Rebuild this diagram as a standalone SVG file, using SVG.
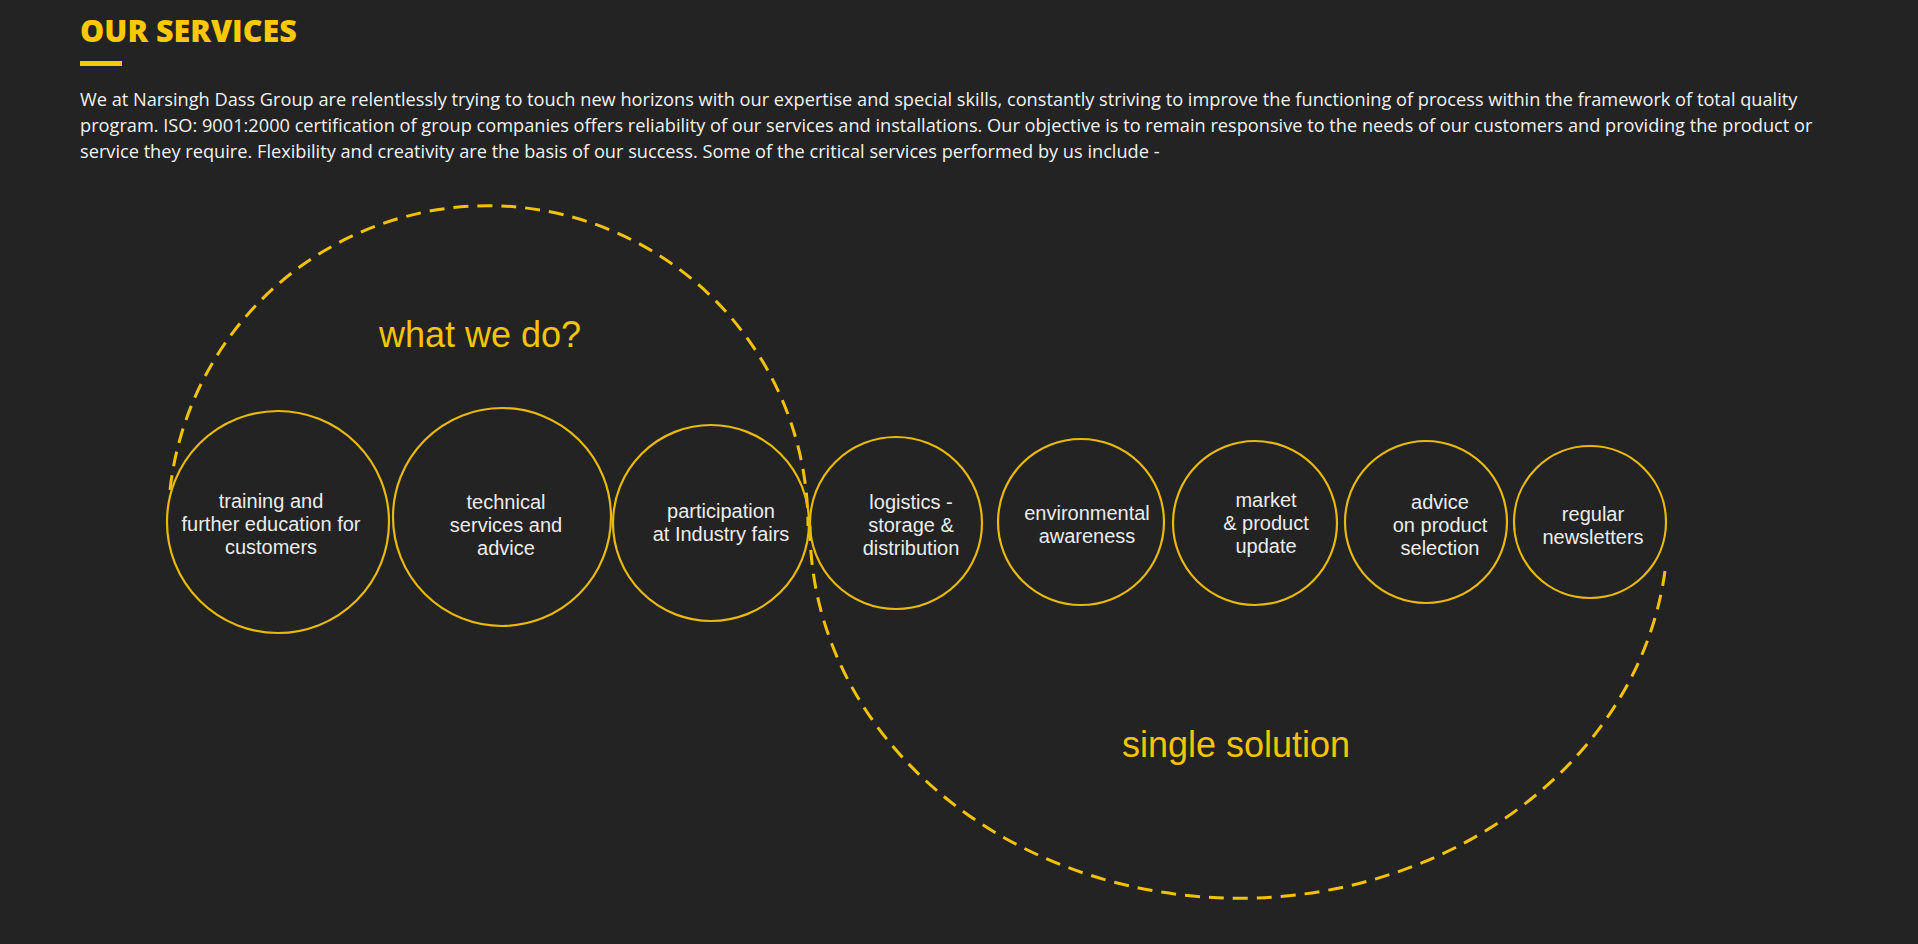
<svg xmlns="http://www.w3.org/2000/svg" width="1918" height="944" viewBox="0 0 1918 944">
<style>
.node circle{fill:none;stroke:#e8b90a;stroke-width:2.2}
.node text{font-family:"Liberation Sans",Arial,sans-serif;font-size:20px;fill:#ececec;text-anchor:middle}
.dash{fill:none;stroke:#f2c200;stroke-width:3;stroke-dasharray:15 9}
.big{font-family:"Liberation Sans",Arial,sans-serif;font-size:36px;fill:#f5c400;text-anchor:middle}
.p{font-family:"Open Sans",sans-serif;font-size:18.2px;fill:#f2f2f2}
</style>
<rect width="1918" height="944" fill="#232323"/>
<text x="80" y="42" font-family="Open Sans,sans-serif" font-weight="800" font-size="30.5" fill="#ffc800">OUR SERVICES</text>
<rect x="80" y="61" width="42" height="5" fill="#ffc800"/>
<text class="p" x="80" y="106">We at Narsingh Dass Group are relentlessly trying to touch new horizons with our expertise and special skills, constantly striving to improve the functioning of process within the framework of total quality</text>
<text class="p" x="80" y="132">program. ISO: 9001:2000 certification of group companies offers reliability of our services and installations. Our objective is to remain responsive to the needs of our customers and providing the product or</text>
<text class="p" x="80" y="158">service they require. Flexibility and creativity are the basis of our success. Some of the critical services performed by us include -</text>
<g id="connectors">
<path class="dash" d="M170,490 A320 320 0 0 1 808,526"/>
<path class="dash" d="M810,526 A429 371 0 0 0 1666,563"/>
</g>
<text class="big" x="480" y="347">what we do?</text>
<text class="big" x="1236" y="757">single solution</text>
<g id="n1" class="node"><circle cx="278" cy="522" r="111"/><text x="271" y="508">training and</text><text x="271" y="531">further education for</text><text x="271" y="554">customers</text></g>
<g id="n2" class="node"><circle cx="502" cy="517" r="109"/><text x="506" y="509">technical</text><text x="506" y="532">services and</text><text x="506" y="555">advice</text></g>
<g id="n3" class="node"><circle cx="711" cy="523" r="98"/><text x="721" y="518">participation</text><text x="721" y="541">at Industry fairs</text></g>
<g id="n4" class="node"><circle cx="896" cy="523" r="86"/><text x="911" y="509">logistics -</text><text x="911" y="532">storage &amp;</text><text x="911" y="555">distribution</text></g>
<g id="n5" class="node"><circle cx="1081" cy="522" r="83"/><text x="1087" y="520">environmental</text><text x="1087" y="543">awareness</text></g>
<g id="n6" class="node"><circle cx="1255" cy="523" r="82"/><text x="1266" y="507">market</text><text x="1266" y="530">&amp; product</text><text x="1266" y="553">update</text></g>
<g id="n7" class="node"><circle cx="1426" cy="522" r="81"/><text x="1440" y="509">advice</text><text x="1440" y="532">on product</text><text x="1440" y="555">selection</text></g>
<g id="n8" class="node"><circle cx="1590" cy="522" r="76"/><text x="1593" y="521">regular</text><text x="1593" y="544">newsletters</text></g>
</svg>
